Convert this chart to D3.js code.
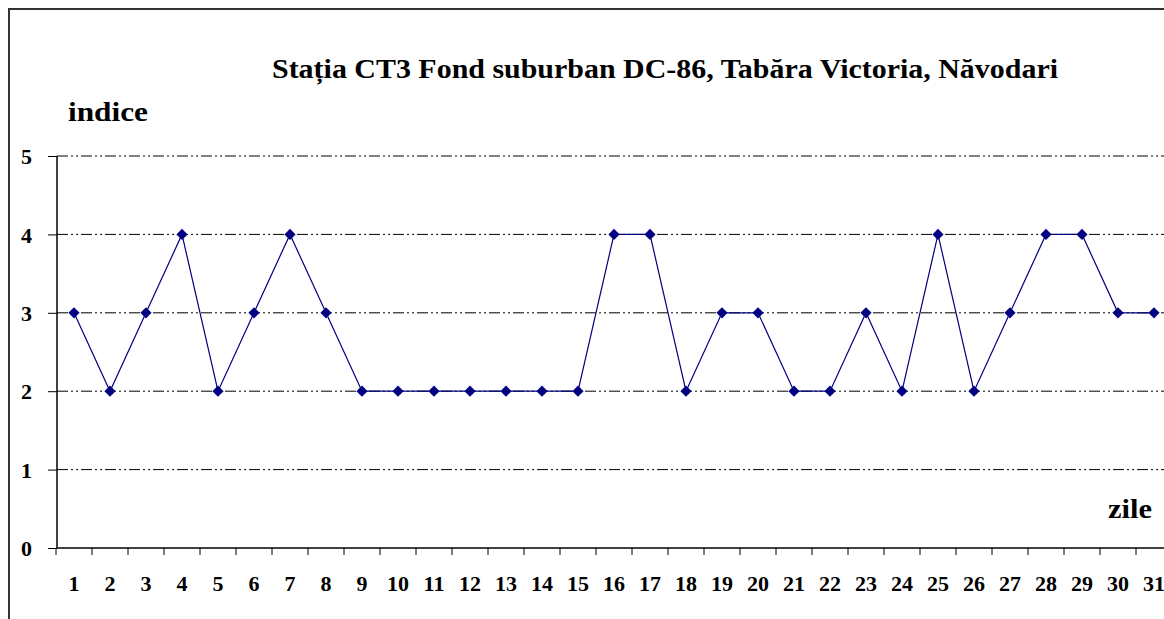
<!DOCTYPE html>
<html>
<head>
<meta charset="utf-8">
<script src="https://cdn.jsdelivr.net/npm/d3@7"></script>
<style>
  body { margin: 0; background: #fff; overflow: hidden; }
</style>
</head>
<body>
<div id="chart"></div>
<script>
// days of the month and index value for each day
var days = d3.range(1, 32);
var indice = [3, 2, 3, 4, 2, 3, 4, 3, 2, 2, 2, 2, 2, 2, 2, 4, 4, 2, 3, 3, 2, 2, 3, 2, 4, 2, 3, 4, 4, 3, 3];
var yTicks = [0, 1, 2, 3, 4, 5];
var title = "Stația CT3 Fond suburban DC-86, Tabăra Victoria, Năvodari";

var serif = "Liberation Serif";
var width = 1164, height = 619;
var svg = d3.select("#chart").append("svg")
    .attr("width", width)
    .attr("height", height);

// outer frame (only left and top visible in the picture)
svg.append("path")
    .attr("d", "M9,619 V9 H1164")
    .attr("fill", "none")
    .attr("stroke", "#333")
    .attr("stroke-width", 2);

var x = d3.scaleBand().domain(days).range([56, 1172]);
var y = d3.scaleLinear().domain([0, 5]).range([548, 156]);

// dash-dot-dot gridlines
svg.append("g")
    .selectAll("line")
    .data(yTicks.filter(function(d) { return d > 0; }))
    .enter().append("line")
    .attr("x1", 57)
    .attr("x2", width)
    .attr("y1", function(d) { return y(d); })
    .attr("y2", function(d) { return y(d); })
    .attr("stroke", "#000")
    .attr("stroke-width", 1)
    .attr("stroke-dasharray", "11,3,2,3,2,3");

// y axis
var yAxis = svg.append("g")
    .attr("transform", "translate(57,0)")
    .call(d3.axisLeft(y).tickValues(yTicks).tickFormat(d3.format("d")).tickSize(9).tickPadding(16));
yAxis.attr("font-family", serif).attr("font-size", 22).attr("font-weight", "bold");
yAxis.select(".domain").attr("stroke", "#000").attr("stroke-width", 1.5).attr("d", "M0," + y(5) + "V" + y(0));
yAxis.selectAll(".tick line").attr("stroke", "#000");
yAxis.selectAll("text").attr("dy", "0.35em");

// x axis with ticks between categories
var xAxis = svg.append("g")
    .attr("transform", "translate(0,548)")
    .call(d3.axisBottom(x).tickSize(0).tickPadding(27));
xAxis.attr("font-family", serif).attr("font-size", 22).attr("font-weight", "bold");
xAxis.select(".domain").attr("stroke", "#000").attr("stroke-width", 1.5).attr("d", "M57,0H" + width);
svg.append("g")
    .selectAll("line")
    .data(days)
    .enter().append("line")
    .attr("x1", function(d) { return x(d); })
    .attr("x2", function(d) { return x(d); })
    .attr("y1", 548)
    .attr("y2", 555)
    .attr("stroke", "#000");

// series line
var line = d3.line()
    .x(function(d, i) { return x(days[i]) + x.bandwidth() / 2; })
    .y(function(d) { return y(d); });

svg.append("path")
    .datum(indice)
    .attr("d", line)
    .attr("fill", "none")
    .attr("stroke", "#000080")
    .attr("stroke-width", 1.2);

// diamond markers
svg.append("g")
    .selectAll("path")
    .data(indice)
    .enter().append("path")
    .attr("d", d3.symbol().type(d3.symbolDiamond2).size(80))
    .attr("transform", function(d, i) {
        return "translate(" + (x(days[i]) + x.bandwidth() / 2) + "," + y(d) + ")";
    })
    .attr("fill", "#000080");

// titles
function label(txt, tx, ty, len) {
    svg.append("text")
        .attr("x", tx)
        .attr("y", ty)
        .attr("textLength", len)
        .attr("lengthAdjust", "spacingAndGlyphs")
        .attr("font-family", serif)
        .attr("font-weight", "bold")
        .attr("font-size", 27)
        .text(txt);
}
label(title, 272, 78, 786);
label("indice", 68, 121, 80);
label("zile", 1108, 518, 44);
</script>
</body>
</html>
